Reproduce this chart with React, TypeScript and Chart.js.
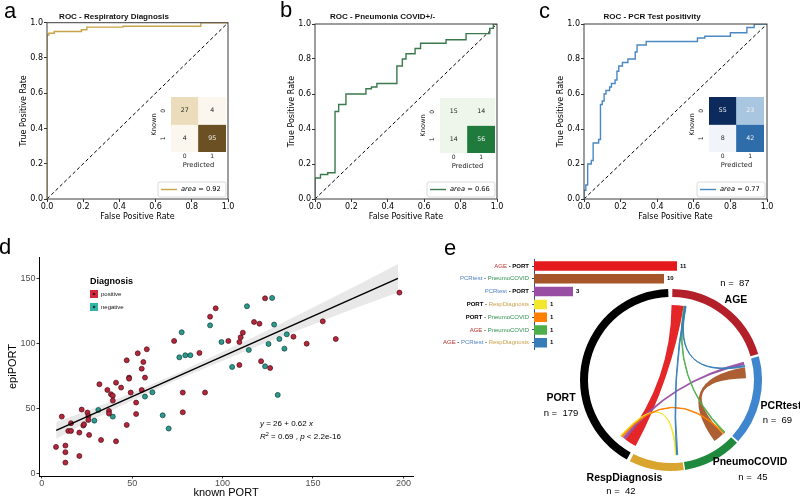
import React, { useEffect, useRef } from 'react';
import { Chart, registerables } from 'chart.js';

Chart.register(...registerables);

const SANS = '"Liberation Sans", Arial, sans-serif';
const DEJAVU = '"DejaVu Sans", Verdana, sans-serif';

/* ---------- a, b, c : ROC curves ---------- */
const rocTicks = [0, 0.2, 0.4, 0.6, 0.8, 1.0];
const diagFpr = [0, 1];
const diagTpr = [0, 1];

const respFpr = [0, 0, 0.01, 0.01, 0.04, 0.04, 0.19, 0.19, 0.22, 0.22, 0.42, 0.42, 0.85, 0.85, 1];
const respTpr = [0, 0.93, 0.93, 0.94, 0.94, 0.95, 0.95, 0.96, 0.96, 0.975, 0.975, 0.98, 0.98, 1, 1];
const respAuc = 0.92;

const pneuFpr = [0, 0, 0.03, 0.03, 0.07, 0.07, 0.11, 0.11, 0.13, 0.13, 0.17, 0.17, 0.28, 0.28, 0.31, 0.31, 0.34, 0.34, 0.45, 0.45, 0.48, 0.48, 0.5, 0.5, 0.55, 0.55, 0.58, 0.58, 0.72, 0.72, 0.83, 0.83, 0.96, 0.96, 0.98, 0.98, 1];
const pneuTpr = [0, 0.12, 0.12, 0.14, 0.14, 0.15, 0.15, 0.5, 0.5, 0.54, 0.54, 0.6, 0.6, 0.63, 0.63, 0.64, 0.64, 0.66, 0.66, 0.76, 0.76, 0.8, 0.8, 0.83, 0.83, 0.86, 0.86, 0.89, 0.89, 0.91, 0.91, 0.945, 0.945, 0.975, 0.975, 1, 1];
const pneuAuc = 0.66;

const pcrFpr = [0, 0, 0.01, 0.01, 0.02, 0.02, 0.04, 0.04, 0.05, 0.05, 0.08, 0.08, 0.09, 0.09, 0.1, 0.1, 0.11, 0.11, 0.12, 0.12, 0.14, 0.14, 0.15, 0.15, 0.17, 0.17, 0.18, 0.18, 0.19, 0.19, 0.21, 0.21, 0.24, 0.24, 0.28, 0.28, 0.29, 0.29, 0.34, 0.34, 0.62, 0.62, 0.66, 0.66, 0.8, 0.8, 0.89, 0.89, 0.93, 0.93, 1];
const pcrTpr = [0, 0.05, 0.05, 0.08, 0.08, 0.2, 0.2, 0.22, 0.22, 0.32, 0.32, 0.34, 0.34, 0.54, 0.54, 0.56, 0.56, 0.6, 0.6, 0.62, 0.62, 0.64, 0.64, 0.66, 0.66, 0.68, 0.68, 0.73, 0.73, 0.76, 0.76, 0.78, 0.78, 0.8, 0.8, 0.84, 0.84, 0.88, 0.88, 0.9, 0.9, 0.92, 0.92, 0.93, 0.93, 0.95, 0.95, 0.98, 0.98, 1, 1];
const pcrAuc = 0.77;

/* confusion matrices: rows = Known 0/1, cols = Predicted 0/1 */
const cmLabels = ['0', '1'];
const respCm = [[27, 4], [4, 95]];
const pneuCm = [[15, 14], [14, 56]];
const pcrCm = [[55, 23], [8, 42]];

/* ---------- d : scatter ---------- */
const posX = [7.9, 11.1, 13.1, 13.1, 13.1, 14.7, 16.2, 16.2, 20.8, 20.8, 22.1, 23.0, 23.4, 25.3, 25.8, 25.8, 26.2, 31.9, 32.8, 36.3, 37.2, 37.2, 38.3, 39.3, 39.3, 41.1, 41.1, 43.9, 47.0, 47.0, 48.3, 48.3, 49.2, 52.2, 52.2, 53.1, 55.3, 56.2, 55.3, 57.1, 58.1, 73.2, 78.0, 78.0, 87.2, 90.3, 93.1, 96.2, 103.2, 109.3, 109.3, 110.0, 111.2, 117.4, 120.4, 121.3, 123.5, 126.3, 139.2, 146.5, 155.4, 162.6, 197.8];
const posY = [20.3, 43.6, 21.3, 16.2, 8.2, 32.6, 32.6, 38.5, 13.3, 31.3, 49.0, 36.7, 37.7, 46.7, 44.1, 41.0, 29.5, 68.5, 25.6, 64.1, 47.9, 45.9, 60.8, 59.7, 55.9, 69.7, 24.6, 65.9, 86.9, 37.2, 73.6, 72.8, 62.1, 54.4, 45.6, 92.3, 80.5, 85.6, 64.1, 73.6, 95.4, 101.8, 62.1, 46.9, 92.6, 62.1, 120.5, 126.9, 101.8, 101.0, 83.3, 104.6, 108.2, 116.4, 115.1, 86.2, 134.6, 81.0, 105.1, 99.7, 116.9, 103.3, 139.0];
const negX = [31.3, 29.1, 39.3, 57.1, 61.2, 66.9, 70.2, 76.1, 77.4, 79.4, 82.2, 93.1, 99.4, 105.3, 113.5, 114.5, 125.4, 127.4, 128.5, 123.5, 131.4, 130.5, 134.2, 135.5];
const negY = [48.7, 40.5, 43.6, 59.0, 62.3, 44.6, 34.4, 89.2, 108.5, 90.8, 90.8, 113.8, 101.0, 81.8, 128.5, 94.9, 99.5, 134.9, 114.4, 82.3, 103.3, 60.3, 95.9, 106.9];
const fitX = [8, 197];
const fitY = [33, 150];
const bandX = [8, 25, 50, 75, 100, 125, 150, 175, 197];
const bandLo = [26.5, 39, 56, 72, 86.5, 101, 114.5, 128, 139];
const bandHi = [39.5, 48, 62, 77, 93.5, 110, 127.5, 145, 161];
const dTicksX = [0, 50, 100, 150, 200];
const dTicksY = [0, 50, 100, 150];
const fitIntercept = 26;
const fitSlope = 0.62;
const fitR2 = 0.69;

/* ---------- e : intersections bar + chord ---------- */
const pairLabels = ['AGE - PORT', 'PCRtest - PneumoCOVID', 'PCRtest - PORT', 'PORT - RespDiagnosis', 'PORT - PneumoCOVID', 'AGE - PneumoCOVID', 'AGE - PCRtest - RespDiagnosis'];
const pairCounts = [11, 10, 3, 1, 1, 1, 1];
const ringNames = ['AGE', 'PCRtest', 'PneumoCOVID', 'RespDiagnosis', 'PORT'];
const ringCounts = [87, 69, 45, 42, 179];
/* where each ribbon attaches inside each named segment (in units of that segment's count) */
const chordOffsets = [[0.5, 1], [7, 3.5], [2, 12], [16.5, 5], [15.5, 2], [11.5, 1], [12.5, 5.5, 4]];

/* ---------- styles ---------- */
const pairColors = ['#e41a1c', '#a65628', '#984ea3', '#f2e62e', '#ff7f00', '#4daf4a', '#377eb8'];
const ringColors = ['#b3202a', '#3f86cf', '#1f8a3e', '#d9a52e', '#000000'];
const nameColors: Record<string, string> = { AGE: '#b8322e', PORT: '#000', PCRtest: '#4f7fc4', PneumoCOVID: '#2f9150', RespDiagnosis: '#c9a04a' };
const respCellColors = [['#ebdcbb', '#fbf7ee'], ['#fbf7ee', '#6b5024']];
const pneuCellColors = [['#eef6ec', '#eef6ec'], ['#eef6ec', '#1f7a3c']];
const pcrCellColors = [['#0c2b5c', '#a9c6e0'], ['#f1f4f9', '#2e6caa']];
const ringLabelPos = [
  { name: [65, -80], n: [64, -97] },
  { name: [110, 26], n: [106.5, 40] },
  { name: [79, 82], n: [82, 97] },
  { name: [-46.5, 98.3], n: [-50, 111.7] },
  { name: [-110, 18.3], n: [-110, 33.3] },
];

/* ---------- plugins ---------- */
const framePlugin = {
  id: 'frame',
  afterDraw(chart: any) {
    const { ctx, chartArea: a } = chart;
    ctx.save();
    ctx.strokeStyle = '#3c3c3c';
    ctx.lineWidth = 1;
    ctx.strokeRect(a.left, a.top, a.width, a.height);
    ctx.restore();
  },
};

const rocLegend = (auc: number, color: string) => ({
  id: 'rocLegend',
  afterDraw(chart: any) {
    const { ctx, chartArea: a } = chart;
    const w = 68, h = 15;
    const x = a.right - 2 - w, y = a.bottom - 2 - h;
    ctx.save();
    ctx.fillStyle = 'rgba(255,255,255,0.9)';
    ctx.strokeStyle = '#d2d2d2';
    ctx.lineWidth = 0.8;
    ctx.beginPath();
    ctx.roundRect(x, y, w, h, 2);
    ctx.fill();
    ctx.stroke();
    const cy = y + h / 2;
    ctx.strokeStyle = color;
    ctx.lineWidth = 1.4;
    ctx.beginPath();
    ctx.moveTo(x + 3, cy);
    ctx.lineTo(x + 19, cy);
    ctx.stroke();
    ctx.fillStyle = '#000';
    ctx.textBaseline = 'middle';
    ctx.textAlign = 'left';
    ctx.font = `italic 6.7px ${DEJAVU}`;
    ctx.fillText('area', x + 23, cy);
    const w1 = ctx.measureText('area').width;
    ctx.font = `6.7px ${DEJAVU}`;
    ctx.fillText(' = ' + auc.toFixed(2), x + 23 + w1, cy);
    ctx.restore();
  },
});

const cellTextPlugin = {
  id: 'cellText',
  afterDatasetsDraw(chart: any) {
    const ctx = chart.ctx;
    const all = chart.data.datasets.flatMap((d: any) => d.cellValues);
    const max = Math.max(...all);
    ctx.save();
    ctx.textAlign = 'center';
    ctx.textBaseline = 'middle';
    ctx.font = `6.3px ${DEJAVU}`;
    chart.data.datasets.forEach((ds: any, di: number) => {
      chart.getDatasetMeta(di).data.forEach((el: any, i: number) => {
        const v = ds.cellValues[i];
        ctx.fillStyle = v / max > 0.4 ? '#f4f4f4' : '#262626';
        ctx.fillText(String(v), el.x, (el.y + el.base) / 2);
      });
    });
    /* row labels of the matrix, rotated like the original heatmap */
    const ys = chart.scales.y;
    const n = cmLabels.length;
    ctx.fillStyle = '#222';
    ctx.font = `6px ${DEJAVU}`;
    cmLabels.forEach((lab, r) => {
      const py = ys.getPixelForValue(n - 1 - r + 0.5);
      ctx.save();
      ctx.translate(chart.chartArea.left - 8, py);
      ctx.rotate(-Math.PI / 2);
      ctx.fillText(lab, 0, 0);
      ctx.restore();
    });
    ctx.restore();
  },
};

const scatterLegendPlugin = {
  id: 'dLegend',
  afterDraw(chart: any) {
    const { ctx, chartArea: a } = chart;
    const x = a.left + 51, y = a.top + 25;
    ctx.save();
    ctx.textAlign = 'left';
    ctx.textBaseline = 'middle';
    ctx.fillStyle = '#000';
    ctx.font = `bold 9px ${SANS}`;
    ctx.fillText('Diagnosis', x, y);
    const items = chart.data.datasets.filter((d: any) => d.legendSwatch);
    items.forEach((d: any, i: number) => {
      const sy = y + 8 + i * 13;
      ctx.fillStyle = d.legendSwatch;
      ctx.fillRect(x, sy, 8, 8);
      ctx.fillStyle = d.borderColor;
      ctx.beginPath();
      ctx.arc(x + 4, sy + 4, 1.3, 0, Math.PI * 2);
      ctx.fill();
      ctx.fillStyle = '#111';
      ctx.font = `6px ${SANS}`;
      ctx.fillText(d.label, x + 11, sy + 4);
    });
    ctx.restore();
  },
};

const regressionTextPlugin = {
  id: 'regText',
  afterDraw(chart: any) {
    const { ctx, chartArea: a } = chart;
    const x0 = a.left + 221;
    const y1 = a.top + 167, y2 = a.top + 180;
    ctx.save();
    ctx.textAlign = 'left';
    ctx.textBaseline = 'middle';
    ctx.fillStyle = '#000';
    const run = (parts: [string, string][], y: number) => {
      let x = x0;
      parts.forEach(([t, style]) => {
        if (style === 'sup') {
          ctx.font = `5.5px ${SANS}`;
          ctx.fillText(t, x, y - 3);
        } else {
          ctx.font = `${style === 'i' ? 'italic ' : ''}8px ${SANS}`;
          ctx.fillText(t, x, y);
        }
        x += ctx.measureText(t).width;
      });
    };
    run([['y', 'i'], [` = ${fitIntercept} + ${fitSlope} `, 'n'], ['x', 'i']], y1);
    run([['R', 'i'], ['2', 'sup'], [` = ${fitR2} , `, 'n'], ['p', 'i'], [' < 2.2e-16', 'n']], y2);
    ctx.restore();
  },
};

const pairLabelPlugin = {
  id: 'pairLabels',
  afterDraw(chart: any) {
    const ctx = chart.ctx;
    const ys = chart.scales.y, xs = chart.scales.x;
    ctx.save();
    ctx.textBaseline = 'middle';
    ctx.textAlign = 'left';
    pairLabels.forEach((lab, i) => {
      const y = ys.getPixelForValue(i);
      const seg: { t: string; c: string; b: boolean }[] = [];
      lab.split(' - ').forEach((p, k) => {
        if (k) seg.push({ t: ' - ', c: '#000', b: true });
        seg.push({ t: p, c: nameColors[p], b: p === 'PORT' });
      });
      let x = chart.chartArea.left - 5;
      for (let k = seg.length - 1; k >= 0; k--) {
        ctx.font = `${seg[k].b ? 'bold ' : ''}6px ${SANS}`;
        x -= ctx.measureText(seg[k].t).width;
        ctx.fillStyle = seg[k].c;
        ctx.fillText(seg[k].t, x, y);
      }
      ctx.font = `bold 6px ${SANS}`;
      ctx.fillStyle = '#000';
      ctx.fillText(String(pairCounts[i]), xs.getPixelForValue(pairCounts[i]) + 3, y);
    });
    ctx.restore();
  },
};

const chordPlugin = {
  id: 'chords',
  afterDatasetsDraw(chart: any) {
    const arcs = chart.getDatasetMeta(0).data;
    const cx = arcs[0].x, cy = arcs[0].y;
    const r = arcs[0].innerRadius - 6;
    const ang = (name: string, off: number, w: number) => {
      const i = ringNames.indexOf(name);
      const a = arcs[i];
      const k = (a.endAngle - a.startAngle) / ringCounts[i];
      return [a.startAngle + off * k, a.startAngle + (off + w) * k];
    };
    const ctx = chart.ctx;
    ctx.save();
    pairLabels.forEach((lab, p) => {
      const names = lab.split(' - ');
      const offs = chordOffsets[p];
      const w = pairCounts[p];
      const [s0, s1] = ang(names[0], offs[0], w);
      for (let k = 1; k < names.length; k++) {
        const [t0, t1] = ang(names[k], offs[k], w);
        ctx.beginPath();
        ctx.arc(cx, cy, r, s0, s1);
        ctx.quadraticCurveTo(cx, cy, cx + r * Math.cos(t0), cy + r * Math.sin(t0));
        ctx.arc(cx, cy, r, t0, t1);
        ctx.quadraticCurveTo(cx, cy, cx + r * Math.cos(s0), cy + r * Math.sin(s0));
        ctx.closePath();
        ctx.globalAlpha = 0.95;
        ctx.fillStyle = pairColors[p];
        ctx.fill();
        if (w <= 1) {
          ctx.globalAlpha = 1;
          ctx.strokeStyle = pairColors[p];
          ctx.lineWidth = 0.9;
          ctx.stroke();
        }
      }
    });
    ctx.restore();
  },
};

const ringLabelPlugin = {
  id: 'ringLabels',
  afterDraw(chart: any) {
    const arcs = chart.getDatasetMeta(0).data;
    const cx = arcs[0].x, cy = arcs[0].y;
    const ctx = chart.ctx;
    ctx.save();
    ctx.textAlign = 'center';
    ctx.textBaseline = 'middle';
    ctx.fillStyle = '#000';
    ringNames.forEach((nm, i) => {
      const pos = ringLabelPos[i];
      ctx.font = `bold 10.5px ${SANS}`;
      ctx.fillText(nm, cx + pos.name[0], cy + pos.name[1]);
      ctx.font = `9.5px ${SANS}`;
      ctx.fillText(`n =  ${ringCounts[i]}`, cx + pos.n[0], cy + pos.n[1]);
    });
    ctx.restore();
  },
};

/* ---------- chart configs ---------- */
const axisROC = (text: string, horiz: boolean) => ({
  type: 'linear',
  min: 0,
  max: 1,
  afterBuildTicks: (s: any) => {
    s.ticks = rocTicks.map((v) => ({ value: v }));
  },
  ticks: { callback: (v: any) => Number(v).toFixed(1), font: { family: DEJAVU, size: 8 }, color: '#000', padding: horiz ? 0.2 : 1, maxRotation: 0, autoSkip: false },
  grid: { display: true, drawOnChartArea: false, drawTicks: true, tickLength: 3, color: '#000', lineWidth: 0.8 },
  border: { display: false },
  title: { display: true, text, color: '#000', font: { family: DEJAVU, size: 8 }, padding: horiz ? { top: 0, bottom: 8.2 } : { top: 19.2, bottom: 0 } },
  afterFit: (s: any) => {
    if (horiz) s.height = 31;
    else s.width = 47;
  },
});

function rocConfig(fpr: number[], tpr: number[], color: string, title: string, auc: number, padRight: number, titleBox: number) {
  return {
    type: 'scatter',
    data: {
      datasets: [
        { data: fpr.map((x, i) => ({ x, y: tpr[i] })), showLine: true, borderColor: color, borderWidth: 1.4, pointRadius: 0 },
        { data: diagFpr.map((x, i) => ({ x, y: diagTpr[i] })), showLine: true, borderColor: '#000', borderWidth: 1, borderDash: [3.5, 2.5], pointRadius: 0 },
      ],
    },
    options: {
      animation: false,
      responsive: false,
      events: [],
      layout: { padding: { left: 0, right: padRight, top: 0, bottom: 0 } },
      plugins: {
        legend: { display: false },
        tooltip: { enabled: false },
        title: { display: true, text: title, color: '#111', font: { family: SANS, size: 8, weight: 'bold' }, padding: { top: 12.2, bottom: titleBox - 12.2 - 9.6 } },
      },
      scales: { x: axisROC('False Positive Rate', true), y: axisROC('True Positive Rate', false) },
    },
    plugins: [framePlugin, rocLegend(auc, color)],
  };
}

function insetConfig(cm: number[][], colors: string[][]) {
  const n = cmLabels.length;
  return {
    type: 'bar',
    data: {
      labels: cmLabels,
      datasets: cm.map((row, r) => ({
        data: row.map(() => [n - 1 - r, n - r]),
        cellValues: row,
        backgroundColor: colors[r],
        grouped: false,
        categoryPercentage: 1,
        barPercentage: 1,
        borderWidth: 0,
      })),
    },
    options: {
      animation: false,
      responsive: false,
      events: [],
      layout: { padding: { left: 0, right: 6, top: 12, bottom: 0 } },
      plugins: { legend: { display: false }, tooltip: { enabled: false } },
      scales: {
        x: {
          ticks: { font: { family: DEJAVU, size: 6 }, color: '#222', padding: 0.6 },
          grid: { display: false, drawTicks: false },
          border: { display: false },
          title: { display: true, text: 'Predicted', color: '#222', font: { family: DEJAVU, size: 6.7 }, padding: { top: 0, bottom: 6 } },
          afterFit: (s: any) => {
            s.height = 23;
          },
        },
        y: {
          type: 'linear',
          min: 0,
          max: n,
          afterBuildTicks: (s: any) => {
            s.ticks = cmLabels.map((_, r) => ({ value: n - 1 - r + 0.5 }));
          },
          ticks: { display: false },
          grid: { display: false, drawTicks: false },
          border: { display: false },
          title: { display: true, text: 'Known', color: '#222', font: { family: DEJAVU, size: 6.7 }, padding: { top: 10, bottom: 0 } },
          afterFit: (s: any) => {
            s.width = 31;
          },
        },
      },
    },
    plugins: [cellTextPlugin],
  };
}

function scatterConfig() {
  const tickFont = { family: SANS, size: 9 };
  return {
    type: 'scatter',
    data: {
      datasets: [
        { type: 'line', label: 'fit', data: fitX.map((x, i) => ({ x, y: fitY[i] })), borderColor: '#000', borderWidth: 1.5, pointRadius: 0, order: 0 },
        { label: 'positive', legendSwatch: '#d3283c', data: posX.map((x, i) => ({ x, y: posY[i] })), backgroundColor: '#b3263b', borderColor: '#4a1019', borderWidth: 0.7, pointRadius: 2.5, order: 1 },
        { label: 'negative', legendSwatch: '#33b3a6', data: negX.map((x, i) => ({ x, y: negY[i] })), backgroundColor: '#2c9b8f', borderColor: '#0f3d37', borderWidth: 0.7, pointRadius: 2.5, order: 2 },
        { type: 'line', label: 'lo', data: bandX.map((x, i) => ({ x, y: bandLo[i] })), borderWidth: 0, pointRadius: 0, fill: false, order: 3 },
        { type: 'line', label: 'hi', data: bandX.map((x, i) => ({ x, y: bandHi[i] })), borderWidth: 0, pointRadius: 0, fill: '-1', backgroundColor: 'rgba(150,150,150,0.22)', order: 4 },
      ],
    },
    options: {
      animation: false,
      responsive: false,
      events: [],
      layout: { padding: { left: 0, right: 7, top: 7, bottom: 0 } },
      plugins: { legend: { display: false }, tooltip: { enabled: false } },
      scales: {
        x: {
          type: 'linear',
          min: -1.5,
          max: 205.3,
          afterBuildTicks: (s: any) => {
            s.ticks = dTicksX.map((v) => ({ value: v }));
          },
          ticks: { font: tickFont, color: '#4d4d4d', padding: 0, maxRotation: 0 },
          grid: { display: true, drawOnChartArea: false, tickLength: 2.5, color: '#333' },
          border: { display: true, color: '#000', width: 1 },
          title: { display: true, text: 'known PORT', color: '#000', font: { family: SANS, size: 11 }, padding: { top: 0, bottom: 2.5 } },
          afterFit: (s: any) => {
            s.height = 26;
          },
        },
        y: {
          type: 'linear',
          min: -2.1,
          max: 166.4,
          afterBuildTicks: (s: any) => {
            s.ticks = dTicksY.map((v) => ({ value: v }));
          },
          ticks: { font: tickFont, color: '#4d4d4d', padding: 1 },
          grid: { display: true, drawOnChartArea: false, tickLength: 2.5, color: '#333' },
          border: { display: true, color: '#000', width: 1 },
          title: { display: true, text: 'epiPORT', color: '#000', font: { family: SANS, size: 11 }, padding: { top: 6.4, bottom: 0 } },
          afterFit: (s: any) => {
            s.width = 39;
          },
        },
      },
    },
    plugins: [scatterLegendPlugin, regressionTextPlugin],
  };
}

function pairBarConfig() {
  return {
    type: 'bar',
    data: {
      labels: pairLabels,
      datasets: [{ data: pairCounts, backgroundColor: pairColors, categoryPercentage: 1, barPercentage: 0.74, borderWidth: 0 }],
    },
    options: {
      indexAxis: 'y',
      animation: false,
      responsive: false,
      events: [],
      layout: { padding: { left: 0, right: 10, top: 4.6, bottom: 1.8 } },
      plugins: { legend: { display: false }, tooltip: { enabled: false } },
      scales: {
        x: { display: false, min: 0, max: 12 },
        y: {
          ticks: { display: false },
          grid: { display: true, drawOnChartArea: false, tickLength: 2, offset: false, color: '#2f4f8f' },
          border: { display: true, color: '#2f4f8f', width: 1 },
          afterFit: (s: any) => {
            s.width = 104;
          },
        },
      },
    },
    plugins: [pairLabelPlugin],
  };
}

function chordConfig() {
  return {
    type: 'doughnut',
    data: { labels: ringNames, datasets: [{ data: ringCounts, backgroundColor: ringColors, borderWidth: 0 }] },
    options: {
      animation: false,
      responsive: false,
      events: [],
      cutout: '91%',
      rotation: 0,
      spacing: 4,
      layout: { padding: { left: 40, right: 38, top: 19, bottom: 25 } },
      plugins: { legend: { display: false }, tooltip: { enabled: false } },
    },
    plugins: [chordPlugin, ringLabelPlugin],
  };
}

/* ---------- components ---------- */
type BoxProps = { left: number; top: number; width: number; height: number; make: () => any };

function ChartBox({ left, top, width, height, make }: BoxProps) {
  const ref = useRef<HTMLCanvasElement | null>(null);
  useEffect(() => {
    if (!ref.current) return;
    const chart = new Chart(ref.current, make());
    return () => chart.destroy();
  }, []);
  return <canvas ref={ref} width={width} height={height} style={{ position: 'absolute', left, top, width, height }} />;
}

function Letter({ ch, left, top }: { ch: string; left: number; top: number }) {
  return (
    <div style={{ position: 'absolute', left, top, fontFamily: SANS, fontSize: 22, lineHeight: '22px', color: '#000' }}>{ch}</div>
  );
}

export default function App() {
  return (
    <div style={{ position: 'fixed', left: 0, top: 0, width: 800, height: 496, overflow: 'hidden', background: '#fff' }}>
      <ChartBox left={0} top={0} width={250} height={230} make={() => rocConfig(respFpr, respTpr, '#c9a447', 'ROC - Respiratory Diagnosis', respAuc, 22, 22.7)} />
      <ChartBox left={268} top={0} width={250} height={230} make={() => rocConfig(pneuFpr, pneuTpr, '#3a7a4e', 'ROC - Pneumonia COVID+/-', pneuAuc, 21, 24)} />
      <ChartBox left={537} top={0} width={250} height={230} make={() => rocConfig(pcrFpr, pcrTpr, '#4a88c4', 'ROC - PCR Test positivity', pcrAuc, 20, 24)} />
      <ChartBox left={140} top={85} width={92} height={90} make={() => insetConfig(respCm, respCellColors)} />
      <ChartBox left={409} top={86} width={92} height={90} make={() => insetConfig(pneuCm, pneuCellColors)} />
      <ChartBox left={678} top={85} width={92} height={90} make={() => insetConfig(pcrCm, pcrCellColors)} />
      <ChartBox left={0} top={250} width={420} height={252} make={scatterConfig} />
      <ChartBox left={540} top={270} width={260} height={226} make={chordConfig} />
      <ChartBox left={430} top={255} width={270} height={96} make={pairBarConfig} />
      <Letter ch="a" left={4} top={0} />
      <Letter ch="b" left={280} top={-1} />
      <Letter ch="c" left={539} top={0} />
      <Letter ch="d" left={-1} top={236} />
      <Letter ch="e" left={444} top={237} />
    </div>
  );
}
